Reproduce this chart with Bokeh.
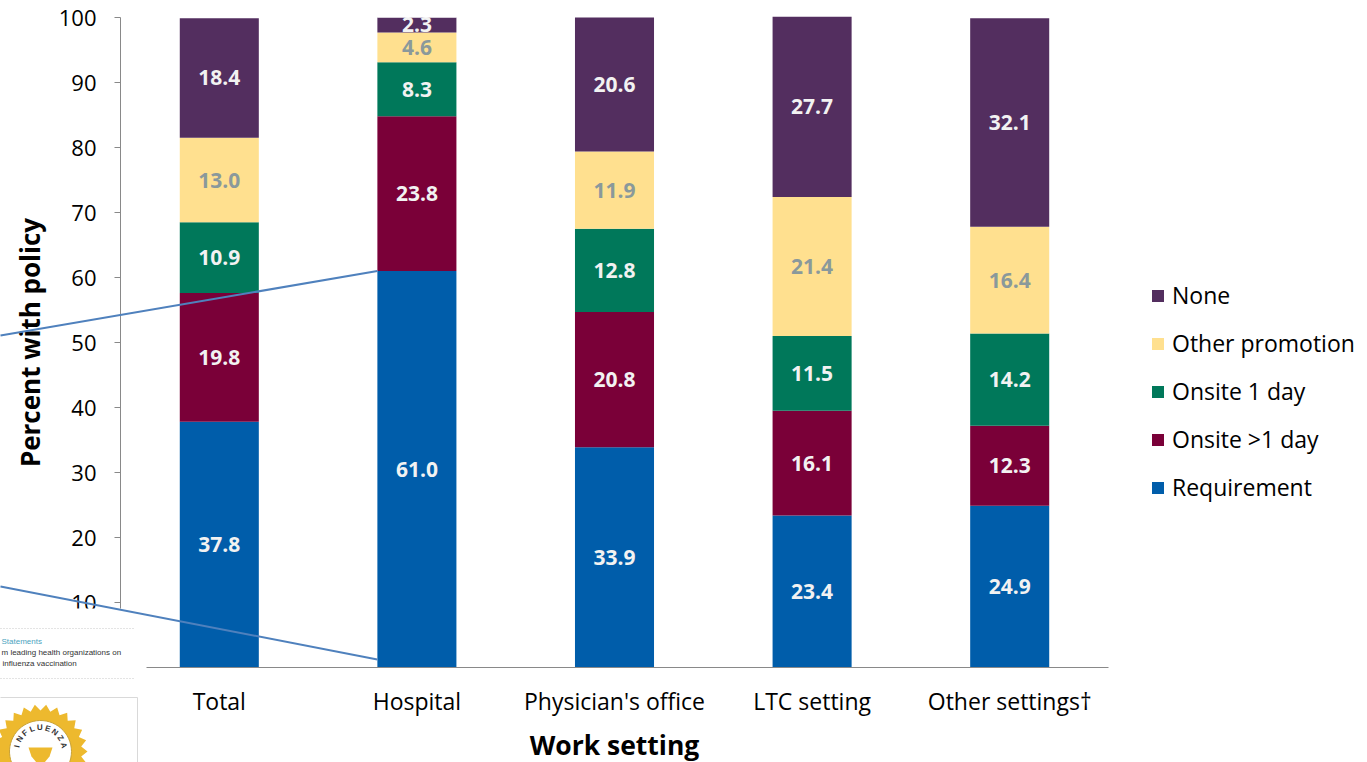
import numpy as np
from bokeh.plotting import figure
from bokeh.models import Range1d, Legend, LegendItem, ColumnDataSource, FixedTicker, BoxAnnotation
from bokeh.core.properties import value
from bokeh.embed import file_html
from bokeh.resources import INLINE

# ---------------- data ----------------
settings = ["Total", "Hospital", "Physician's office", "LTC setting", "Other settings\u2020"]
requirement = [37.8, 61.0, 33.9, 23.4, 24.9]
onsite_multi = [19.8, 23.8, 20.8, 16.1, 12.3]
onsite_one = [10.9, 8.3, 12.8, 11.5, 14.2]
other_promo = [13.0, 4.6, 11.9, 21.4, 16.4]
none_policy = [18.4, 2.3, 20.6, 27.7, 32.1]
series_names = ["Requirement", "Onsite >1 day", "Onsite 1 day", "Other promotion", "None"]
y_ticks = [10, 20, 30, 40, 50, 60, 70, 80, 90, 100]

colors = ["#005DAA", "#7A0038", "#00785A", "#FFE08F", "#532E5F"]
label_colors = ["#F2F2F2", "#F2F2F2", "#F2F2F2", "#8A999B", "#F2F2F2"]
FONT = "Open Sans"
W, H = 1367, 762

series = [requirement, onsite_multi, onsite_one, other_promo, none_policy]
x_pos = [i + 0.5 for i in range(len(settings))]

# plot area: category slots of 197.6 px starting 120 px from the left, 6.5 px per percent
PX_X, PX_Y, LEFT, BASE = 197.6, 6.5, 120.0, 667.0
def dx(px):
    return (px - LEFT) / PX_X
def dy(py):
    return (BASE - py) / PX_Y

p = figure(width=W, height=H, x_range=Range1d(dx(0), dx(W)), y_range=Range1d(dy(H), dy(0)),
           min_border=0, output_backend="svg", toolbar_location=None)
p.min_border_left = p.min_border_right = p.min_border_top = p.min_border_bottom = 0
p.outline_line_color = None
p.xgrid.grid_line_color = None
p.ygrid.grid_line_color = None
p.background_fill_color = "white"
p.border_fill_color = "white"

bottom = np.zeros(len(settings))
renderers = []
for name, vals, col, lcol in zip(series_names, series, colors, label_colors):
    vals = np.array(vals, dtype=float)
    top = bottom + vals
    src = ColumnDataSource(dict(x=x_pos, bottom=bottom.copy(), top=top.copy(),
                                mid=(bottom + top) / 2, lab=["%.1f" % v for v in vals]))
    r = p.vbar(x="x", bottom="bottom", top="top", width=0.4, source=src,
               fill_color=col, line_color=None)
    renderers.append((name, r))
    p.text(x="x", y="mid", text="lab", source=src, text_align="center",
           text_baseline="middle", text_color=lcol, text_font=value(FONT),
           text_font_style="bold", text_font_size="21px")
    bottom = top

# plot area ends at 100 %: mask what pokes out above it
p.quad(left=[x_pos[1] - 0.2], right=[x_pos[1] + 0.2], bottom=[100.0], top=[dy(0)],
       fill_color="white", line_color=None)

# axes (drawn at fixed locations inside the canvas)
p.yaxis.fixed_location = 0
p.yaxis.bounds = (0, 100)
p.yaxis.ticker = FixedTicker(ticks=y_ticks)
p.yaxis.axis_label = "Percent with policy"
p.yaxis.axis_label_text_font = FONT
p.yaxis.axis_label_text_font_style = "bold"
p.yaxis.axis_label_text_font_size = "26px"
p.yaxis.axis_label_text_color = "black"
p.yaxis.axis_label_standoff = 8
p.yaxis.major_label_text_font = FONT
p.yaxis.major_label_text_font_size = "22px"
p.yaxis.major_label_text_color = "black"
p.yaxis.major_label_standoff = 18
p.yaxis.major_tick_out = 6
p.yaxis.major_tick_in = 0
p.yaxis.minor_tick_line_color = None
p.yaxis.axis_line_color = "#898989"
p.yaxis.major_tick_line_color = "#898989"

p.xaxis.fixed_location = 0
p.xaxis.bounds = (0, len(settings))
p.xaxis.ticker = FixedTicker(ticks=x_pos)
p.xaxis.major_label_overrides = {x: s for x, s in zip(x_pos, settings)}
p.xaxis.axis_label = "Work setting"
p.xaxis.axis_label_text_font = FONT
p.xaxis.axis_label_text_font_style = "bold"
p.xaxis.axis_label_text_font_size = "26.5px"
p.xaxis.axis_label_text_color = "black"
p.xaxis.axis_label_standoff = 7
p.xaxis.major_label_text_font = FONT
p.xaxis.major_label_text_font_size = "23px"
p.xaxis.major_label_text_color = "black"
p.xaxis.major_label_standoff = 17
p.xaxis.major_tick_out = 0
p.xaxis.major_tick_in = 0
p.xaxis.minor_tick_line_color = None
p.xaxis.axis_line_color = "#898989"

# legend
items = [LegendItem(label=n, renderers=[r]) for n, r in reversed(renderers)]
legend = Legend(items=items, location=(1150, 259), orientation="vertical",
                glyph_width=15, glyph_height=15, label_height=20, spacing=16,
                label_standoff=7, padding=0, margin=0,
                label_text_font=FONT, label_text_font_size="23px",
                label_text_color="black", border_line_color=None,
                background_fill_alpha=0)
p.add_layout(legend)

# ---- slide decorations: the clipped picture at the bottom left and callout lines ----
p.add_layout(BoxAnnotation(right=dx(146), top=dy(608), fill_color="white", fill_alpha=1.0,
                           line_color=None))
OV = "overlay"
p.segment(x0=[dx(0), dx(0)], y0=[dy(628), dy(678)], x1=[dx(135), dx(135)], y1=[dy(628), dy(678)],
          line_color="#C8C8C8", line_width=1, line_dash="1 2", level=OV)
p.text(x=[dx(1), dx(1), dx(2)], y=[dy(641), dy(652), dy(663)],
       text=["Statements", "m leading health organizations on", "influenza vaccination"],
       text_color=["#4BA3C0", "#333333", "#333333"], text_font=value("Liberation Sans"),
       text_font_size="8px", text_baseline="middle", level=OV)
p.segment(x0=[dx(0), dx(137)], y0=[dy(697), dy(697)], x1=[dx(137), dx(137)], y1=[dy(697), dy(H)],
          line_color="#D9D9D9", line_width=1, level=OV)

cx, cy = 40.0, 751.0
n_teeth = 26
ang = np.linspace(0, 2 * np.pi, 2 * n_teeth, endpoint=False)
rad = np.where(np.arange(2 * n_teeth) % 2 == 0, 47.0, 41.0)
p.patch(x=dx(cx + rad * np.cos(ang)), y=dy(cy - rad * np.sin(ang)),
        fill_color="#EDB92E", line_color=None, level=OV)
circ = np.linspace(0, 2 * np.pi, 60)
p.patch(x=dx(cx + 31 * np.cos(circ)), y=dy(cy - 31 * np.sin(circ)),
        fill_color="white", line_color="#C9A235", line_width=1, level=OV)
letters = list("INFLUENZA")
th = np.radians(np.linspace(168, 15, len(letters)))
p.text(x=dx(cx + 24 * np.cos(th)), y=dy(cy - 24 * np.sin(th)), text=letters,
       angle=th - np.pi / 2, text_align="center", text_baseline="middle",
       text_color="#333333", text_font=value("Liberation Sans"), text_font_style="bold",
       text_font_size="8px", level=OV)
p.patch(x=dx(np.array([28, 52, 49, 44, 36, 31])), y=dy(np.array([747, 747, 756, 762, 762, 756])),
        fill_color="#EDB92E", line_color=None, level=OV)

p.segment(x0=[dx(0), dx(0)], y0=[dy(335), dy(586)],
          x1=[x_pos[1] - 0.2, x_pos[1] - 0.2], y1=[requirement[1], dy(659)],
          line_color="#4F81BD", line_width=2, level=OV)

open("out.html", "w").write(file_html(p, INLINE))
